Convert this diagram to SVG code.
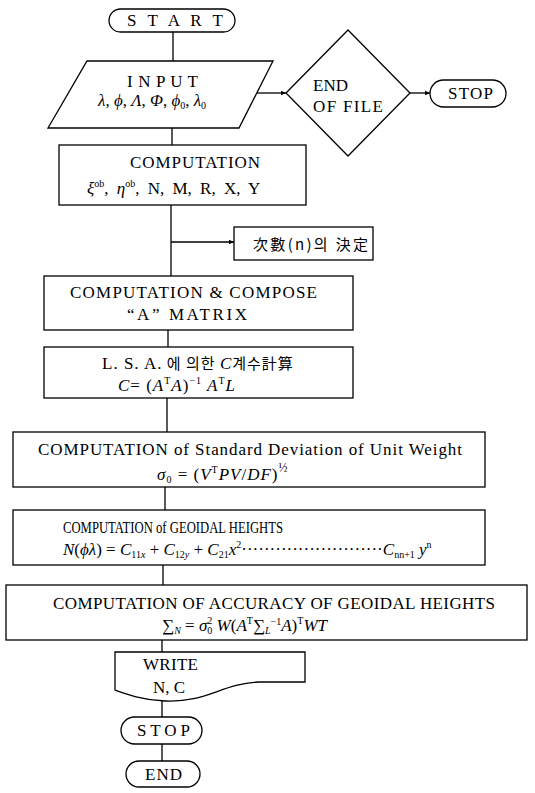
<svg xmlns="http://www.w3.org/2000/svg" width="535" height="793" viewBox="0 0 535 793">
<style>
.box{fill:#fff;stroke:#000;stroke-width:1.3}
.c{fill:none;stroke:#000;stroke-width:1.3}
text{font-family:"Liberation Serif","DejaVu Serif","Noto Sans CJK KR",serif;font-size:17px;fill:#000}
.i{font-style:italic}
.k{font-family:"Noto Sans CJK KR","Liberation Sans",sans-serif;font-size:15px}
.s{font-size:10px}
</style>
<defs>
<marker id="ah" markerWidth="6" markerHeight="6" refX="5" refY="3" orient="auto" markerUnits="userSpaceOnUse">
<path d="M0,0.8 L5,3 L0,5.2 Z" fill="#000"/>
</marker>
</defs>
<rect width="535" height="793" fill="#fff"/>
<g id="connectors">
<path class="c" d="M173,32 V61"/>
<path class="c" d="M257,93 H286" marker-end="url(#ah)"/>
<path class="c" d="M410,93 H430" marker-end="url(#ah)"/>
<path class="c" d="M172,128 V145"/>
<path class="c" d="M171,205 V276"/>
<path class="c" d="M171,242 H234" marker-end="url(#ah)"/>
<path class="c" d="M168,330 V347"/>
<path class="c" d="M167,398 V432"/>
<path class="c" d="M165,487 V510"/>
<path class="c" d="M163,565 V585"/>
<path class="c" d="M162,640 V652"/>
<path class="c" d="M162,700 V717"/>
<path class="c" d="M162,744 V761"/>
</g>
<g id="start">
<rect class="box" x="109" y="9" width="126" height="23" rx="11.5"/>
<text x="127" y="26" textLength="96" lengthAdjust="spacing">S T A R T</text>
</g>
<g id="input">
<polygon class="box" points="87,61 273,61 239,128 48,128"/>
<text x="127" y="87" textLength="71" lengthAdjust="spacing">I N P U T</text>
<text x="98" y="106" font-size="14"><tspan class="i">λ</tspan>, <tspan class="i">ϕ</tspan>, <tspan class="i">Λ</tspan>, <tspan class="i">Φ</tspan>, <tspan class="i">ϕ</tspan><tspan class="s" dy="3">0</tspan><tspan dy="-3">, </tspan><tspan class="i">λ</tspan><tspan class="s" dy="3">0</tspan></text>
</g>
<g id="eof">
<polygon class="box" points="286,93 348,30 410,93 348,156"/>
<text x="313" y="91">END</text>
<text x="313" y="112" textLength="70" lengthAdjust="spacing">OF FILE</text>
</g>
<g id="stop1">
<rect class="box" x="430" y="80" width="76" height="27" rx="13.5"/>
<text x="448" y="99" textLength="45" lengthAdjust="spacing">STOP</text>
</g>
<g id="comp1">
<rect class="box" x="59" y="145" width="247" height="60"/>
<text x="130" y="168" textLength="130" lengthAdjust="spacing">COMPUTATION</text>
<text x="87" y="194" font-size="18" word-spacing="4"><tspan class="i">ξ</tspan><tspan class="s" dy="-7">ob</tspan><tspan dy="7">, </tspan><tspan class="i">η</tspan><tspan class="s" dy="-7">ob</tspan><tspan dy="7">, N, M, R, X, Y</tspan></text>
</g>
<g id="order">
<rect class="box" x="234" y="227" width="139" height="33"/>
<text class="k" x="253" y="250" textLength="115" lengthAdjust="spacing">次數(n)의 決定</text>
</g>
<g id="comp2">
<rect class="box" x="44" y="276" width="309" height="54"/>
<text x="70" y="298" textLength="247" lengthAdjust="spacing">COMPUTATION &amp; COMPOSE</text>
<text x="127" y="320" textLength="120" lengthAdjust="spacing">“A”  MATRIX</text>
</g>
<g id="lsa">
<rect class="box" x="44" y="347" width="309" height="51"/>
<text x="102" y="369" letter-spacing="1">L. S. A.<tspan class="k"> 에 의한 </tspan><tspan class="i">C</tspan><tspan class="k">계수計算</tspan></text>
<text x="118" y="391" font-size="18" letter-spacing="1"><tspan class="i">C</tspan>= (<tspan class="i">A</tspan><tspan class="s" dy="-7">T</tspan><tspan class="i" dy="7">A</tspan>)<tspan class="s" dy="-7">−1</tspan><tspan class="i" dy="7"> A</tspan><tspan class="s" dy="-7">T</tspan><tspan class="i" dy="7">L</tspan></text>
</g>
<g id="stddev">
<rect class="box" x="13" y="432" width="472" height="55"/>
<text x="38" y="455" textLength="424" lengthAdjust="spacing">COMPUTATION of Standard Deviation of Unit Weight</text>
<text x="157" y="480" font-size="18" letter-spacing="1"><tspan class="i">σ</tspan><tspan class="s" dy="3">0</tspan><tspan dy="-3"> = (</tspan><tspan class="i">V</tspan><tspan class="s" dy="-7">T</tspan><tspan class="i" dy="7">PV</tspan>/<tspan class="i">DF</tspan>)<tspan font-size="12" dy="-8">½</tspan></text>
</g>
<g id="geoid">
<rect class="box" x="13" y="510" width="472" height="55"/>
<text x="63" y="533" font-size="16" textLength="220" lengthAdjust="spacingAndGlyphs">COMPUTATION of GEOIDAL HEIGHTS</text>
<text x="63" y="555"><tspan class="i">N</tspan>(<tspan class="i">ϕλ</tspan>) = <tspan class="i">C</tspan><tspan class="s" dy="3">11<tspan class="i">x</tspan></tspan><tspan dy="-3"> + </tspan><tspan class="i">C</tspan><tspan class="s" dy="3">12<tspan class="i">y</tspan></tspan><tspan dy="-3"> + </tspan><tspan class="i">C</tspan><tspan class="s" dy="3">21</tspan><tspan class="i" dy="-3">x</tspan><tspan class="s" dy="-7">2</tspan><tspan dy="7">·························</tspan><tspan class="i">C</tspan><tspan class="s" dy="3">nn+1</tspan><tspan class="i" dy="-3"> y</tspan><tspan class="s" dy="-7">n</tspan></text>
</g>
<g id="accuracy">
<rect class="box" x="6" y="585" width="521" height="55"/>
<text x="53" y="609" textLength="442" lengthAdjust="spacing">COMPUTATION OF ACCURACY OF GEOIDAL HEIGHTS</text>
<text x="162" y="631">∑<tspan class="s i" dy="3">N</tspan><tspan dy="-3"> = </tspan><tspan class="i">σ</tspan><tspan class="s" dy="3">0</tspan><tspan class="s" dx="-5" dy="-10">2</tspan><tspan class="i" dy="7"> W</tspan>(<tspan class="i">A</tspan><tspan class="s" dy="-7">T</tspan><tspan dy="7">∑</tspan><tspan class="s i" dy="3">L</tspan><tspan class="s" dy="-9">−1</tspan><tspan class="i" dy="6">A</tspan>)<tspan class="s" dy="-7">T</tspan><tspan class="i" dy="7">WT</tspan></text>
</g>
<g id="write">
<path class="box" d="M115,652 H305 V682 H258 C222,684 205,703 165,701 C142,700 126,694 115,690 Z"/>
<text x="143" y="670" textLength="55" lengthAdjust="spacing">WRITE</text>
<text x="153" y="693">N, C</text>
</g>
<g id="stop2">
<rect class="box" x="121" y="717" width="81" height="27" rx="13.5"/>
<text x="137" y="736" textLength="53" lengthAdjust="spacing">STOP</text>
</g>
<g id="end">
<rect class="box" x="126" y="761" width="74" height="26" rx="13"/>
<text x="145" y="780" textLength="37" lengthAdjust="spacing">END</text>
</g>
</svg>
